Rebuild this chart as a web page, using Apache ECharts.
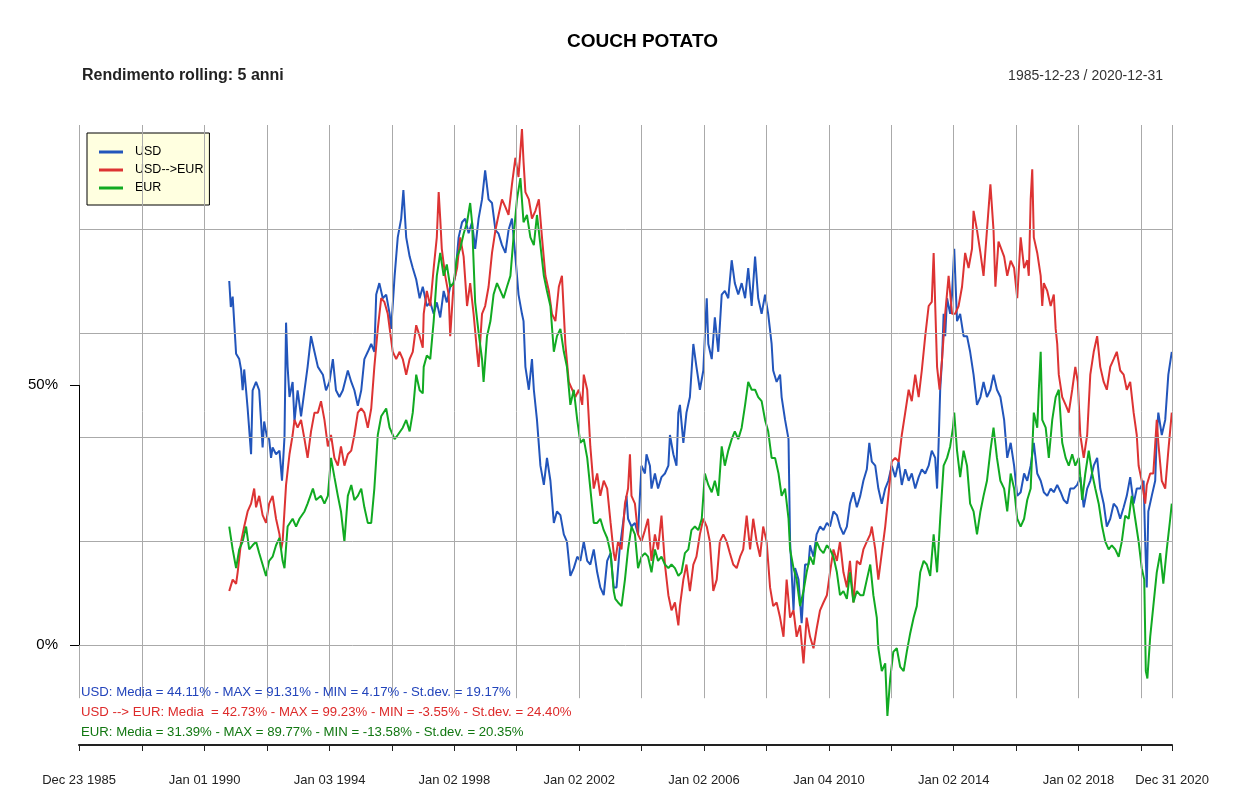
<!DOCTYPE html>
<html>
<head>
<meta charset="utf-8">
<title>COUCH POTATO</title>
<script src="https://cdn.jsdelivr.net/npm/echarts@6/dist/echarts.min.js"></script>
<style>
  html, body { margin: 0; padding: 0; background: #fff; }
  #chart { width: 1250px; height: 796px; }
</style>
</head>
<body>
<div id="chart"></div>
<script>
// rolling 5y returns (%), points as [decimal year, value]
const usd = [
  [1990.79,70],[1990.84,65],[1990.90,67],[1991.01,56],[1991.11,55],[1991.17,53],[1991.22,49],[1991.27,53],[1991.33,49],[1991.38,45.5],
  [1991.49,36.7],[1991.54,49],[1991.65,50.6],[1991.75,49],[1991.86,38],[1991.91,43],[1992.00,40],[1992.07,39.6],[1992.13,36],[1992.18,38],
  [1992.29,36.7],[1992.40,37.4],[1992.48,31.6],[1992.56,40],[1992.61,62],[1992.66,53.5],[1992.72,47.7],[1992.82,50.6],[1992.88,43],[1992.98,49],
  [1993.09,44],[1993.20,49],[1993.30,53.5],[1993.41,59.4],[1993.52,56.4],[1993.63,53.5],[1993.79,52],[1993.89,49],[1994.00,50.6],[1994.11,55],
  [1994.21,49],[1994.32,47.7],[1994.43,49],[1994.59,52.8],[1994.70,50.6],[1994.80,49],[1994.91,46],[1995.02,49],[1995.12,55],[1995.23,56.4],
  [1995.34,57.9],[1995.44,56.4],[1995.50,67.4],[1995.60,69.6],[1995.71,66.7],[1995.82,67.4],[1995.93,63.7],[1995.98,60.8],[1996.09,71],[1996.19,78.4],
  [1996.30,82],[1996.37,87.5],[1996.46,78.4],[1996.57,74.7],[1996.67,72.5],[1996.78,70.3],[1996.89,66.7],[1996.99,68.9],
  [1997.02,68.1],[1997.12,65.2],[1997.23,65.9],[1997.34,63.7],[1997.44,65.9],[1997.55,63],[1997.66,68.1],[1997.76,65.9],[1997.87,68.9],[1997.98,69.6],
  [1998.03,71],[1998.14,78.4],[1998.25,81.3],[1998.35,82],[1998.46,79.2],[1998.57,81.3],[1998.67,76.2],[1998.78,82],[1998.89,85.7],[1998.99,91.3],
  [1999.10,85.7],[1999.21,85],[1999.32,79.8],[1999.42,79.1],[1999.53,76.9],[1999.64,75.4],[1999.74,79.8],[1999.85,82],[1999.96,74.7],[2000.06,67.4],
  [2000.17,63.7],[2000.22,62.3],[2000.28,53.5],[2000.39,49.1],[2000.49,55],[2000.55,49.1],[2000.65,43.3],[2000.76,34.5],[2000.87,30.8],[2000.97,36],
  [2001.08,31.6],[2001.19,23.5],[2001.29,25.7],[2001.40,25],[2001.51,21.3],[2001.61,19.9],[2001.72,13.3],[2001.83,14.8],[2001.94,17],[2002.04,16.2],
  [2002.15,19.9],[2002.26,16.2],[2002.36,15.5],[2002.47,18.4],[2002.58,14],[2002.68,11.1],[2002.79,9.6],[2002.90,16.2],[2003.01,17.7],[2003.11,11.1],
  [2003.20,11.1],[2003.30,18.4],[2003.41,23.5],[2003.52,28.7],[2003.57,24.3],[2003.68,22.8],[2003.79,23.5],[2003.89,21.3],[2003.95,28.7],[2004.00,34.5],
  [2004.11,33],[2004.16,36.7],[2004.27,34.5],[2004.32,30.1],[2004.43,33],[2004.53,30.1],[2004.64,32.3],[2004.75,33],[2004.86,34.5],[2004.91,40.4],
  [2005.02,36.7],[2005.12,34.5],[2005.18,44.7],[2005.23,46.2],[2005.34,38.9],[2005.44,44.7],[2005.55,47.7],[2005.66,57.9],[2005.76,53.5],[2005.87,49.1],
  [2005.98,52.8],[2006.03,59.4],[2006.09,66.7],[2006.14,57.9],[2006.25,55],[2006.35,63],[2006.46,56.4],[2006.57,67.4],[2006.67,68.1],[2006.78,66.7],
  [2006.89,74],[2006.99,69.6],[2007.10,67.4],[2007.21,69.6],[2007.32,66.7],[2007.42,72.5],[2007.53,65.2],[2007.64,74.7],[2007.74,66.7],[2007.85,63.7],
  [2007.96,67.4],[2008.06,63.7],[2008.17,57.9],[2008.22,52.8],[2008.33,50.6],[2008.44,52],[2008.49,47.7],[2008.60,43.3],[2008.71,39.6],[2008.76,19.9],
  [2008.81,14],[2008.87,6.7],[2008.92,14.8],[2009.03,12.6],[2009.13,4.2],[2009.24,15.5],[2009.35,15.5],
  [2009.40,19.2],[2009.51,17],[2009.61,21.3],[2009.72,22.8],[2009.83,22.1],[2009.94,23.5],[2010.04,22.8],[2010.15,25.7],[2010.26,25],[2010.36,22.8],
  [2010.47,21.3],[2010.58,22.8],[2010.68,27.2],[2010.79,29.4],[2010.90,26.5],[2011.01,28.7],[2011.11,31.6],[2011.22,33.8],[2011.30,38.9],[2011.38,35.3],
  [2011.49,34.5],[2011.59,30.1],[2011.70,27.2],[2011.81,30.1],[2011.91,31.6],[2012.02,34.5],[2012.13,32.3],[2012.24,35.3],[2012.34,30.8],[2012.45,33.8],
  [2012.56,31.6],[2012.66,33],[2012.77,30.1],[2012.88,32.3],[2012.98,33.8],[2013.09,33],[2013.20,34.5],[2013.30,37.4],[2013.41,36],[2013.47,30.1],
  [2013.52,38.9],[2013.57,49.1],[2013.63,55],[2013.68,63.7],[2013.73,59.4],[2013.79,66.7],[2013.89,63.7],[2013.95,67.4],[2014.02,76.2],[2014.11,62.3],
  [2014.21,63.7],[2014.32,59.4],[2014.43,59.4],[2014.53,56.4],[2014.64,52],[2014.75,46.2],[2014.86,47.7],[2014.96,50.6],[2015.07,47.7],[2015.18,49.1],
  [2015.28,52],[2015.39,49.1],[2015.50,47.7],
  [2015.62,43.3],[2015.72,36],[2015.83,38.9],[2015.94,34.5],[2016.04,28.7],[2016.15,29.4],[2016.26,33],[2016.36,31.6],[2016.47,34.5],[2016.57,38.9],
  [2016.68,33],[2016.79,31.6],[2016.89,29.4],[2017.00,28.7],[2017.11,30.1],[2017.21,29.4],[2017.32,30.8],[2017.43,29.4],[2017.53,27.9],[2017.64,27.2],
  [2017.74,30.1],[2017.85,30.1],[2017.96,30.8],[2018.06,32.3],[2018.17,26.5],[2018.28,30.1],[2018.38,31.6],[2018.49,34.5],[2018.60,36],[2018.70,30.1],
  [2018.81,27.2],[2018.91,22.8],[2019.02,24.3],[2019.13,27.2],[2019.23,26.5],[2019.34,24.3],[2019.45,26.5],[2019.55,28.7],[2019.66,32.3],[2019.77,27.2],
  [2019.87,30.1],[2019.98,30.1],[2020.09,31.6],[2020.14,19.9],[2020.19,11.1],[2020.24,25.7],[2020.35,28.7],[2020.46,31.6],[2020.51,40.4],[2020.56,44.7],
  [2020.67,40.4],[2020.78,43.3],[2020.88,52],[2020.99,56.4]
];

const usdEur = [
  [1990.79,10.4],[1990.90,12.6],[1991.01,11.8],[1991.06,14],[1991.17,19.9],[1991.27,22.8],[1991.38,25.7],[1991.49,27.2],[1991.59,30.1],[1991.65,26.5],
  [1991.75,28.7],[1991.86,25],[1991.97,23.5],[1992.07,27.2],[1992.18,28.7],[1992.29,24.3],[1992.40,21.3],[1992.45,18.4],[1992.50,19.9],[1992.61,30.8],
  [1992.72,36.7],[1992.82,40.4],[1992.88,43.3],[1992.98,41.8],[1993.09,43.3],[1993.20,39.6],[1993.30,36],[1993.41,41.1],[1993.52,44.7],[1993.63,44.7],
  [1993.73,46.9],[1993.84,43.3],[1993.95,38.2],[1994.05,40.4],[1994.16,36],[1994.27,34.5],[1994.37,38.2],[1994.48,34.5],[1994.59,36.7],[1994.70,37.4],
  [1994.80,40.4],[1994.91,44.7],[1995.02,45.5],[1995.12,44.7],[1995.23,41.8],[1995.34,45.5],[1995.44,53.5],[1995.55,60.8],[1995.66,66.7],[1995.76,66],
  [1995.87,63.7],[1996.03,56.4],[1996.14,55],[1996.25,56.4],[1996.35,55],[1996.46,52],[1996.57,55],[1996.67,56.4],[1996.78,61.5],[1996.89,59.4],
  [1996.99,57.2],
  [1997.02,63.7],[1997.12,68.1],[1997.23,65.2],[1997.34,72.5],[1997.44,78.4],[1997.50,87.1],[1997.55,82],[1997.60,76.2],[1997.71,71],[1997.82,67.4],
  [1997.87,59.4],[1997.98,69.6],[1998.09,72.5],[1998.19,78.4],[1998.30,74.7],[1998.41,65.2],[1998.51,69.6],[1998.62,63.7],[1998.73,56.4],[1998.78,53.5],
  [1998.89,63.7],[1998.99,65.2],[1999.10,68.9],[1999.21,75.4],[1999.32,79.8],[1999.42,82.7],[1999.53,85.7],[1999.64,84.2],[1999.74,82.7],[1999.85,88.6],
  [1999.96,93.7],[2000.06,90],[2000.17,99.2],[2000.22,93],[2000.28,87.1],[2000.39,85.7],[2000.49,82],[2000.60,83.5],[2000.71,85.7],[2000.81,78.4],
  [2000.92,71],[2001.03,68.1],[2001.13,63.7],[2001.24,62.3],[2001.35,68.9],[2001.45,71],[2001.56,57.9],[2001.67,50.6],[2001.78,49.1],[2001.88,47.7],
  [2001.99,49.1],[2002.10,46.2],[2002.15,52],[2002.26,49.1],[2002.36,38.2],[2002.47,30.1],[2002.58,33],[2002.68,28.7],[2002.79,31.6],[2002.90,30.1],
  [2003.01,23.5],[2003.11,17.7],
  [2003.16,16.2],[2003.25,19.9],[2003.36,18.4],[2003.47,27.2],[2003.57,30.1],[2003.63,36.7],[2003.68,28.7],[2003.79,27.2],[2003.89,21.3],[2004.00,19.9],
  [2004.11,22.1],[2004.21,24.3],[2004.32,16.2],[2004.43,21.3],[2004.53,18.4],[2004.64,24.9],[2004.75,15.5],[2004.86,9.6],[2004.96,6.7],[2005.07,8.2],
  [2005.18,3.8],[2005.23,7.5],[2005.34,12.6],[2005.44,15.5],[2005.55,10.4],[2005.66,15.5],[2005.76,17],[2005.87,21.3],[2005.98,24.3],[2006.09,22.8],
  [2006.19,19.9],[2006.30,10.4],[2006.41,12.6],[2006.51,19.9],[2006.62,21.3],[2006.73,19.9],[2006.83,17.7],[2006.94,15.5],[2007.05,14.8],[2007.16,17],
  [2007.26,18.4],[2007.37,24.9],[2007.48,18.4],[2007.58,24.3],[2007.69,19.9],[2007.80,17],[2007.90,22.8],[2008.01,19.9],[2008.12,11.1],[2008.22,7.5],
  [2008.33,8.2],[2008.44,5.3],[2008.55,1.6],[2008.65,12.6],[2008.76,5.3],[2008.87,6.7],[2008.97,1.6],[2009.08,3.8],[2009.19,-3.5],[2009.29,5.3],
  [2009.40,1.6],[2009.51,-0.6],[2009.61,3.1],[2009.72,6.7],[2009.83,8.2],[2009.94,9.6],[2010.04,14],[2010.15,18.4],[2010.26,16.2],[2010.36,19.9],
  [2010.47,14],[2010.58,11.1],[2010.68,16.2],[2010.79,8.2],[2010.90,16.2],[2011.01,15.5],[2011.11,18.4],[2011.22,19.9],[2011.33,21.3],[2011.38,22.8],
  [2011.49,18.4],[2011.59,12.6],[2011.70,17.7],[2011.81,22.8],[2011.91,28.7],[2012.02,35.3],[2012.13,36],[2012.24,35.3],[2012.34,40.4],[2012.45,44.7],
  [2012.56,49.1],[2012.66,46.9],[2012.77,52],[2012.88,47.7],[2012.98,52.8],[2013.09,59.4],[2013.20,65.2],[2013.30,66],[2013.36,75.4],[2013.47,53.5],
  [2013.55,49.1],[2013.63,55],[2013.73,63.7],[2013.84,71],[2013.95,63.7],[2014.05,63.7],[2014.16,65.2],[2014.27,68.9],[2014.37,75.4],[2014.48,72.5],
  [2014.59,76.2],[2014.64,83.5],[2014.75,79.8],[2014.86,75.4],[2014.96,71],[2015.07,79.8],[2015.18,88.6],[2015.28,79.8],[2015.34,68.9],[2015.44,77.6],
  [2015.62,74.7],[2015.72,71],[2015.83,73.9],[2015.94,72.5],[2016.04,66.7],[2016.15,78.4],[2016.26,72.5],[2016.36,74],[2016.41,71],[2016.47,85.7],
  [2016.52,91.5],[2016.57,78.4],[2016.68,75.4],[2016.79,71],[2016.84,65.2],[2016.89,69.6],[2017.00,68.1],[2017.11,65.2],[2017.21,67.4],[2017.27,60.8],
  [2017.32,57.9],[2017.37,52],[2017.48,47.7],[2017.59,46.2],[2017.69,44.7],[2017.80,49.1],[2017.90,53.5],[2017.98,50.6],[2018.06,40.4],[2018.17,36],
  [2018.28,40.4],[2018.38,52],[2018.49,56.4],[2018.60,59.4],[2018.70,53.5],[2018.81,50.6],[2018.91,49.1],[2019.02,53.5],[2019.13,55],[2019.23,56.4],
  [2019.34,52.8],[2019.45,52],[2019.55,49.1],[2019.66,50.6],[2019.77,44.7],[2019.87,40.4],[2019.93,34.5],[2020.03,31.6],[2020.14,27.2],[2020.19,30.8],
  [2020.30,33],[2020.40,33],[2020.51,43.3],[2020.56,38.9],[2020.67,31.6],[2020.78,30.1],[2020.88,37.4],[2020.99,44.7]
];

const eur = [
  [1990.79,22.8],[1990.90,18.4],[1991.01,14.8],[1991.11,18.4],[1991.22,19.9],[1991.33,22.8],[1991.43,18.4],[1991.54,19.2],[1991.65,19.9],[1991.75,17.7],
  [1991.86,15.5],[1991.97,13.3],[1992.07,16.2],[1992.18,17],[1992.29,19.2],[1992.40,20.6],[1992.50,16.2],[1992.56,14.8],[1992.66,22.8],[1992.82,24.3],
  [1992.93,22.8],[1993.04,24.3],[1993.20,25.7],[1993.30,27.2],[1993.47,30.1],[1993.57,27.9],[1993.73,28.7],[1993.84,27.2],[1993.95,28.7],[1994.05,36],
  [1994.16,32.3],[1994.27,28.7],[1994.37,25.7],[1994.48,19.9],[1994.59,28.7],[1994.70,30.8],[1994.80,27.9],[1994.91,28.7],[1995.02,30.1],[1995.12,26.5],
  [1995.23,23.5],[1995.34,23.5],[1995.44,30.1],[1995.55,40.4],[1995.66,44],[1995.82,45.5],[1995.93,41.8],[1996.09,39.6],[1996.19,40.4],[1996.35,41.8],
  [1996.46,43.3],[1996.57,41.1],[1996.67,44.7],[1996.78,52],[1996.89,49],[1996.99,48.4],
  [1997.02,53.5],[1997.12,55.7],[1997.23,55],[1997.34,62.3],[1997.44,71],[1997.55,75.4],[1997.66,71],[1997.76,73.2],[1997.87,68.9],[1997.98,69.6],
  [1998.09,74.7],[1998.19,76.2],[1998.30,79.1],[1998.41,81.3],[1998.51,85],[1998.57,81.3],[1998.67,65.9],[1998.78,60.1],[1998.89,55],[1998.94,50.6],
  [1999.05,59.4],[1999.16,62.3],[1999.26,67.4],[1999.37,69.6],[1999.48,68.1],[1999.58,66.7],[1999.69,68.9],[1999.80,71],[1999.90,78.4],[2000.01,85.7],
  [2000.12,89.8],[2000.22,81.3],[2000.33,82.7],[2000.44,78.4],[2000.55,76.9],[2000.65,82.7],[2000.76,76.9],[2000.87,71],[2000.97,68.1],[2001.08,65.2],
  [2001.19,56.4],[2001.29,59.4],[2001.40,60.8],[2001.51,56.4],[2001.61,53.5],[2001.72,46.2],[2001.83,49.1],[2001.94,43.3],[2002.04,38.9],[2002.15,39.6],
  [2002.26,36],[2002.36,30.1],[2002.47,23.5],[2002.58,23.5],[2002.68,24.3],[2002.79,22.1],[2002.90,20.6],[2003.01,17.7],[2003.11,10.4],
  [2003.16,8.9],[2003.25,8.2],[2003.36,7.5],[2003.47,12.6],[2003.57,18.4],[2003.68,22.8],[2003.79,21.3],[2003.89,14.8],[2004.00,17],[2004.11,17.7],
  [2004.21,17],[2004.32,14],[2004.43,18.4],[2004.53,16.2],[2004.64,17],[2004.75,15.5],[2004.86,14.8],[2004.96,15.5],[2005.07,14.8],[2005.18,13.3],
  [2005.28,14],[2005.39,17.7],[2005.50,18.4],[2005.60,22.1],[2005.71,22.8],[2005.82,22.1],[2005.93,24.3],[2006.03,33],[2006.14,30.8],[2006.25,29.4],
  [2006.35,31.6],[2006.46,28.7],[2006.57,38.2],[2006.67,34.5],[2006.78,37.4],[2006.89,39.6],[2006.99,41.1],[2007.10,39.6],[2007.21,41.8],[2007.32,46.2],
  [2007.42,50.6],[2007.53,49.1],[2007.64,49.1],[2007.74,47.7],[2007.85,46.9],[2007.96,43.3],[2008.06,41.1],[2008.17,36],[2008.28,36],[2008.39,33],
  [2008.49,28.7],[2008.60,30.1],[2008.71,24.3],[2008.76,18.4],[2008.87,14.8],[2008.97,12.6],[2009.08,7.5],[2009.19,10.4],[2009.29,14],
  [2009.40,17],[2009.51,15.5],[2009.61,19.9],[2009.72,18.4],[2009.83,17.7],[2009.94,19.2],[2010.04,18.4],[2010.15,17],[2010.26,14],[2010.36,9.6],
  [2010.47,10.4],[2010.58,8.9],[2010.68,14],[2010.79,8.2],[2010.90,10.4],[2011.01,9.6],[2011.11,9.6],[2011.22,12.6],[2011.33,15.5],[2011.43,9.6],
  [2011.54,5.3],[2011.59,-0.6],[2011.70,-5],[2011.81,-3.5],[2011.88,-13.6],[2011.97,-6.4],[2012.07,-1.3],[2012.18,-0.6],[2012.29,-4.2],[2012.40,-5],
  [2012.50,-1.3],[2012.61,2.3],[2012.72,5.3],[2012.82,7.5],[2012.93,14],[2013.04,16.2],[2013.14,15.5],[2013.25,13.3],[2013.36,21.3],[2013.47,14],
  [2013.57,24.3],[2013.68,34.5],[2013.79,36],[2013.89,38.2],[2013.98,41.8],[2014.02,44.7],[2014.11,37.4],[2014.21,32.3],[2014.32,37.4],[2014.43,34.5],
  [2014.53,27.2],[2014.64,25.7],[2014.75,21.3],[2014.86,25.7],[2014.96,28.7],[2015.07,31.6],[2015.18,37.4],[2015.28,41.8],[2015.39,36],[2015.50,31.6],
  [2015.62,30.1],[2015.72,25.7],[2015.83,33],[2015.94,30.1],[2016.04,24.3],[2016.15,22.8],[2016.26,24.3],[2016.36,27.9],[2016.47,30.1],[2016.57,44.7],
  [2016.68,41.8],[2016.73,49.1],[2016.79,56.4],[2016.84,43.3],[2016.95,41.8],[2017.05,36],[2017.16,43.3],[2017.27,47.7],[2017.37,49.1],[2017.48,38.9],
  [2017.59,36],[2017.69,34.5],[2017.80,36.7],[2017.90,34.5],[2018.01,36],[2018.12,27.9],[2018.22,33],[2018.33,37.4],[2018.44,33],[2018.54,30.1],
  [2018.65,27.2],[2018.76,22.8],[2018.86,19.9],[2018.97,18.4],[2019.07,19.2],[2019.18,18.4],[2019.29,17],[2019.39,19.9],[2019.50,24.9],[2019.61,24.3],
  [2019.71,28.7],[2019.82,24.3],[2019.93,19.9],[2020.03,14.8],[2020.11,12.6],[2020.16,-5],[2020.21,-6.4],[2020.30,1.6],[2020.40,7.5],[2020.51,14],
  [2020.62,17.7],[2020.72,11.8],[2020.83,18.4],[2020.94,24.3],[2020.99,27.2]
];

const seriesNames = ['USD', 'USD-->EUR', 'EUR'];
const statLines = [
  'USD: Media = 44.11% - MAX = 91.31% - MIN = 4.17% - St.dev. = 19.17%',
  'USD --> EUR: Media  = 42.73% - MAX = 99.23% - MIN = -3.55% - St.dev. = 24.40%',
  'EUR: Media = 31.39% - MAX = 89.77% - MIN = -13.58% - St.dev. = 20.35%'
];

const startDate = '1985-12-23';
const endDate = '2020-12-31';
const labelDates = ['1985-12-23','1990-01-01','1994-01-03','1998-01-02','2002-01-02','2006-01-02','2010-01-04','2014-01-02','2018-01-02','2020-12-31'];
const labelTexts = ['Dec 23 1985','Jan 01 1990','Jan 03 1994','Jan 02 1998','Jan 02 2002','Jan 02 2006','Jan 04 2010','Jan 02 2014','Jan 02 2018','Dec 31 2020'];
const gridDates = ['1985-12-23','1988-01-01','1990-01-01','1992-01-01','1994-01-01','1996-01-01','1998-01-01','2000-01-01','2002-01-01',
  '2004-01-01','2006-01-01','2008-01-01','2010-01-01','2012-01-01','2014-01-01','2016-01-01','2018-01-01','2020-01-01','2020-12-31'];
const hGrid = [0, 20, 40, 60, 80];
const yLabels = [0, 50];

const colors = ['#2255bb', '#dd3333', '#11aa22'];
const textColors = ['#2244bb', '#dd2a2a', '#117711'];
const FONT = 'Liberation Sans, Arial, sans-serif';

function ts(s) { return Date.parse(s + 'T00:00:00Z'); }
function yearToTs(y) {
  const yr = Math.floor(y);
  const a = Date.UTC(yr, 0, 1), b = Date.UTC(yr + 1, 0, 1);
  return a + (y - yr) * (b - a);
}
function toSeries(arr) { return arr.map(p => [yearToTs(p[0]), p[1]]); }

const xMin = ts(startDate), xMax = ts(endDate);
const tickTs = gridDates.map(ts);
const labelTs = labelDates.map(ts);

const chart = echarts.init(document.getElementById('chart'));

const gridLines = [];
tickTs.forEach(t => gridLines.push([{ coord: [t, 100] }, { coord: [t, -10.2] }]));
hGrid.forEach(v => gridLines.push([{ coord: [xMin, v] }, { coord: [xMax, v] }]));

chart.setOption({
  animation: false,
  backgroundColor: '#fff',
  textStyle: { fontFamily: FONT },
  title: [
    { text: 'COUCH POTATO', left: 562, top: 27, textStyle: { fontSize: 19, fontWeight: 'bold', color: '#000', fontFamily: FONT } },
    { text: 'Rendimento rolling: 5 anni', left: 77, top: 63, textStyle: { fontSize: 16, fontWeight: 'bold', color: '#222', fontFamily: FONT } },
    { text: '1985-12-23 / 2020-12-31', right: 82, top: 64, textStyle: { fontSize: 14, fontWeight: 'normal', color: '#333', fontFamily: FONT } }
  ],
  legend: {
    orient: 'vertical',
    left: 87, top: 133,
    data: seriesNames,
    icon: 'rect',
    itemWidth: 24, itemHeight: 3, itemGap: 4,
    padding: [12, 6, 10, 12],
    backgroundColor: '#ffffe0',
    borderColor: '#000', borderWidth: 1,
    textStyle: { fontSize: 12.5, color: '#000', fontFamily: FONT, lineHeight: 14, padding: [0, 0, 0, 7] },
    selectedMode: false
  },
  grid: { left: 79, right: 78, top: 125, bottom: 51, containLabel: false },
  xAxis: {
    type: 'value', min: xMin, max: xMax, scale: true,
    axisLine: { show: true, onZero: false, lineStyle: { color: '#222', width: 2 } },
    axisTick: { show: true, customValues: tickTs, length: 6, lineStyle: { color: '#222', width: 1 } },
    axisLabel: {
      customValues: labelTs, margin: 29, fontSize: 13, color: '#222', fontFamily: FONT,
      formatter: function (v) {
        const i = labelTs.indexOf(v);
        return i >= 0 ? labelTexts[i] : '';
      }
    },
    splitLine: { show: false }
  },
  yAxis: {
    type: 'value', min: -19.2, max: 100,
    axisLine: { show: false },
    axisTick: { show: true, customValues: yLabels, length: 9, lineStyle: { color: '#000' } },
    axisLabel: { customValues: yLabels, margin: 21, fontSize: 15, color: '#000', fontFamily: FONT, formatter: '{value}%' },
    splitLine: { show: false }
  },
  series: [
    {
      type: 'line', name: '_grid', data: [], z: 1, silent: true,
      markLine: {
        silent: true, symbol: 'none', animation: false,
        label: { show: false },
        lineStyle: { color: '#aaaaaa', width: 1, type: 'solid' },
        data: gridLines
      }
    },
    {
      type: 'line', name: '_yaxis', data: [], z: 4, silent: true,
      markLine: {
        silent: true, symbol: 'none', animation: false,
        label: { show: false },
        lineStyle: { color: '#000', width: 1, type: 'solid' },
        data: [[{ coord: [xMin, 0] }, { coord: [xMin, 50] }]]
      }
    },
    { type: 'line', name: seriesNames[0], data: toSeries(usd), showSymbol: false, color: colors[0], lineStyle: { width: 2, color: colors[0] }, z: 2 },
    { type: 'line', name: seriesNames[1], data: toSeries(usdEur), showSymbol: false, color: colors[1], lineStyle: { width: 2, color: colors[1] }, z: 2 },
    { type: 'line', name: seriesNames[2], data: toSeries(eur), showSymbol: false, color: colors[2], lineStyle: { width: 2, color: colors[2] }, z: 2 }
  ],
  graphic: statLines.map((t, i) => ({
    type: 'text', left: 81, top: 686 + i * 20, z: 10,
    style: { text: t, fill: textColors[i], font: '13.2px ' + FONT }
  }))
});
</script>
</body>
</html>
